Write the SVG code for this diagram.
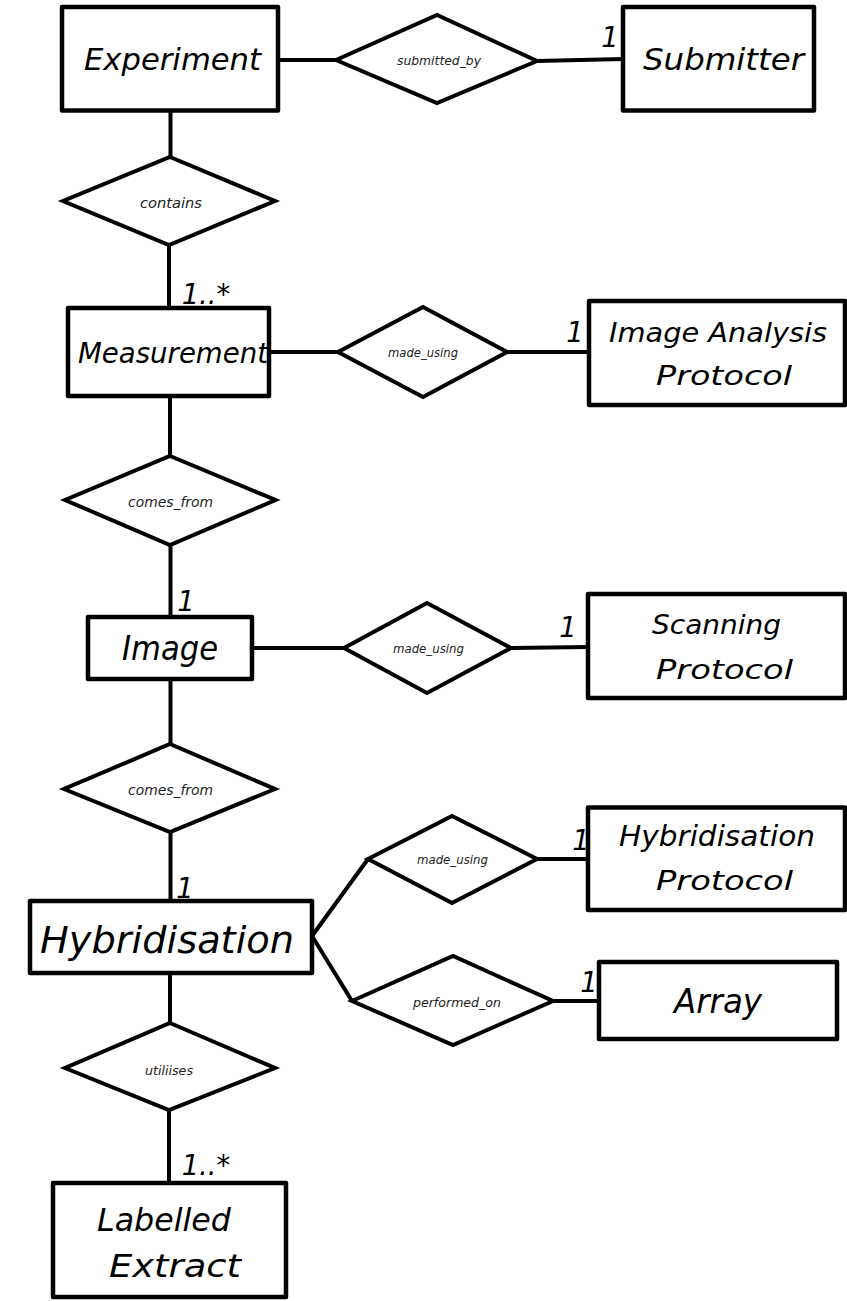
<svg xmlns="http://www.w3.org/2000/svg" width="847" height="1301" viewBox="0 0 847 1301">
<style>
  .ent { fill: #ffffff; stroke: #000000; stroke-width: 4.5; stroke-linejoin: round; }
  .rel { fill: #ffffff; stroke: #000000; stroke-width: 4; stroke-linejoin: miter; }
  .con { stroke: #000000; stroke-width: 4; fill: none; stroke-linecap: butt; }
  .et { font-family: "DejaVu Sans", "Liberation Sans", sans-serif; font-style: italic; fill: #000000; }
  .rt { font-family: "DejaVu Sans", "Liberation Sans", sans-serif; font-style: italic; fill: #222222; }
  .mt { font-family: "DejaVu Sans", "Liberation Sans", sans-serif; font-style: italic; font-size: 27.5px; fill: #000000; text-anchor: middle; }
</style>
<rect width="847" height="1301" fill="#ffffff"/>

<g id="connectors">
  <line class="con" x1="278" y1="60" x2="336" y2="60"/>
  <line class="con" x1="537" y1="61" x2="623" y2="59"/>
  <line class="con" x1="170.5" y1="110" x2="170.5" y2="157"/>
  <line class="con" x1="169" y1="245" x2="169" y2="308"/>
  <line class="con" x1="269" y1="352" x2="338" y2="352"/>
  <line class="con" x1="507" y1="352" x2="589" y2="352"/>
  <line class="con" x1="170" y1="396" x2="170" y2="456"/>
  <line class="con" x1="170.5" y1="545" x2="170.5" y2="617"/>
  <line class="con" x1="252" y1="648" x2="344" y2="648"/>
  <line class="con" x1="511" y1="648" x2="588" y2="647"/>
  <line class="con" x1="170.5" y1="679" x2="170.5" y2="744"/>
  <line class="con" x1="170.5" y1="832" x2="170.5" y2="901"/>
  <line class="con" x1="312" y1="936" x2="368" y2="859"/>
  <line class="con" x1="312" y1="936" x2="352" y2="1001"/>
  <line class="con" x1="537" y1="859" x2="588" y2="859"/>
  <line class="con" x1="553" y1="1001" x2="599" y2="1001"/>
  <line class="con" x1="170" y1="973" x2="170" y2="1023"/>
  <line class="con" x1="169" y1="1110" x2="169" y2="1183"/>
  <text class="mt" x="610" y="47">1</text>
  <text class="mt" x="206" y="304">1..*</text>
  <text class="mt" x="575" y="342">1</text>
  <text class="mt" x="186" y="611">1</text>
  <text class="mt" x="568" y="637">1</text>
  <text class="mt" x="185" y="898">1</text>
  <text class="mt" x="581" y="850">1</text>
  <text class="mt" x="589" y="992">1</text>
  <text class="mt" x="206" y="1175">1..*</text>
</g>

<g id="experiment">
  <rect class="ent" x="62" y="7" width="216" height="103.5"/>
  <text class="et" x="84" y="70" font-size="30" textLength="177" lengthAdjust="spacingAndGlyphs">Experiment</text>
</g>
<g id="submitted_by">
  <polygon class="rel" points="336,60 437,15 537,61 437,103"/>
  <text class="rt" x="397" y="64.5" font-size="12.3" textLength="84" lengthAdjust="spacingAndGlyphs">submitted_by</text>
</g>
<g id="submitter">
  <rect class="ent" x="623" y="7" width="191" height="103.5"/>
  <text class="et" x="643" y="70" font-size="30" textLength="161" lengthAdjust="spacingAndGlyphs">Submitter</text>
</g>
<g id="contains">
  <polygon class="rel" points="170,157 275,201 169,245 63,201"/>
  <text class="rt" x="140" y="208" font-size="14.5" textLength="62" lengthAdjust="spacingAndGlyphs">contains</text>
</g>
<g id="measurement">
  <rect class="ent" x="68" y="308" width="201" height="88" fill="none" style="fill:none"/>
  <text class="et" x="78" y="363" font-size="27.5" textLength="190" lengthAdjust="spacingAndGlyphs">Measurement</text>
</g>
<g id="made_using_ia">
  <polygon class="rel" points="338,352 423,307 507,352 423,397"/>
  <text class="rt" x="388" y="357" font-size="11.6" textLength="70" lengthAdjust="spacingAndGlyphs">made_using</text>
</g>
<g id="image_analysis_protocol">
  <rect class="ent" x="589" y="301" width="256" height="104"/>
  <text class="et" x="609" y="342" font-size="27" textLength="218" lengthAdjust="spacingAndGlyphs">Image Analysis</text>
  <text class="et" x="656" y="385" font-size="27" textLength="136" lengthAdjust="spacingAndGlyphs">Protocol</text>
</g>
<g id="comes_from_1">
  <polygon class="rel" points="170,456 275.5,500 170,545 65,500"/>
  <text class="rt" x="128" y="507" font-size="13.9" textLength="85" lengthAdjust="spacingAndGlyphs">comes_from</text>
</g>
<g id="image">
  <rect class="ent" x="88" y="617" width="164" height="62"/>
  <text class="et" x="122" y="660" font-size="33" textLength="96" lengthAdjust="spacingAndGlyphs">Image</text>
</g>
<g id="made_using_scan">
  <polygon class="rel" points="344,648 427,603 511,648 427,693"/>
  <text class="rt" x="393" y="653" font-size="11.6" textLength="71" lengthAdjust="spacingAndGlyphs">made_using</text>
</g>
<g id="scanning_protocol">
  <rect class="ent" x="588" y="594" width="257" height="104"/>
  <text class="et" x="652" y="634" font-size="27" textLength="129" lengthAdjust="spacingAndGlyphs">Scanning</text>
  <text class="et" x="656" y="679" font-size="27" textLength="137" lengthAdjust="spacingAndGlyphs">Protocol</text>
</g>
<g id="comes_from_2">
  <polygon class="rel" points="170,744 275,789 170,832 64,789"/>
  <text class="rt" x="128" y="795" font-size="13.9" textLength="85" lengthAdjust="spacingAndGlyphs">comes_from</text>
</g>
<g id="hybridisation">
  <rect class="ent" x="30" y="901" width="282" height="72"/>
  <text class="et" x="40" y="953" font-size="38" textLength="254" lengthAdjust="spacingAndGlyphs">Hybridisation</text>
</g>
<g id="made_using_hyb">
  <polygon class="rel" points="368,859 452,816 537,859 452,903"/>
  <text class="rt" x="417" y="863.5" font-size="11.6" textLength="71" lengthAdjust="spacingAndGlyphs">made_using</text>
</g>
<g id="hybridisation_protocol">
  <rect class="ent" x="588" y="807.5" width="257" height="102.5"/>
  <text class="et" x="619" y="846" font-size="28" textLength="196" lengthAdjust="spacingAndGlyphs">Hybridisation</text>
  <text class="et" x="656" y="890" font-size="27" textLength="137" lengthAdjust="spacingAndGlyphs">Protocol</text>
</g>
<g id="performed_on">
  <polygon class="rel" points="352,1001 453,956 553,1001 453,1045"/>
  <text class="rt" x="413" y="1007" font-size="12.6" textLength="88" lengthAdjust="spacingAndGlyphs">performed_on</text>
</g>
<g id="array">
  <rect class="ent" x="599" y="962" width="238" height="77"/>
  <text class="et" x="674" y="1013" font-size="33" textLength="88" lengthAdjust="spacingAndGlyphs">Array</text>
</g>
<g id="utiliises">
  <polygon class="rel" points="170,1023 275,1068 169,1110 65,1068"/>
  <text class="rt" x="145" y="1075" font-size="12.6" textLength="48" lengthAdjust="spacingAndGlyphs">utiliises</text>
</g>
<g id="labelled_extract">
  <rect class="ent" x="53" y="1183" width="233" height="114"/>
  <text class="et" x="97" y="1231" font-size="32" textLength="134" lengthAdjust="spacingAndGlyphs">Labelled</text>
  <text class="et" x="109" y="1277" font-size="32" textLength="132" lengthAdjust="spacingAndGlyphs">Extract</text>
</g>
</svg>
